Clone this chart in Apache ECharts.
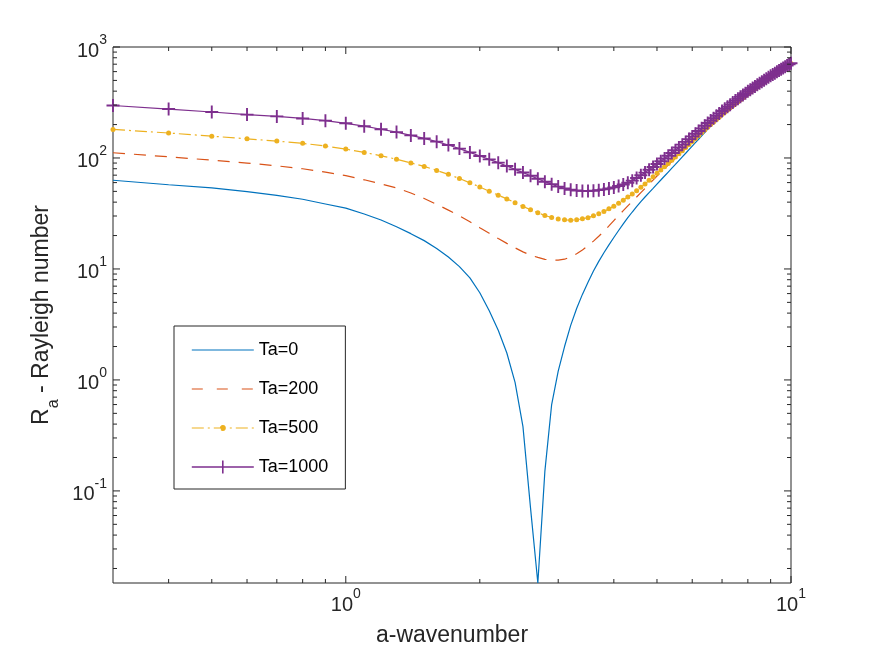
<!DOCTYPE html>
<html>
<head>
<meta charset="utf-8">
<script src="https://cdn.jsdelivr.net/npm/echarts@6/dist/echarts.min.js"></script>
<style>
html, body { margin: 0; padding: 0; background: #ffffff; }
#chart { width: 872px; height: 654px; }
</style>
</head>
<body>
<div id="chart"></div>
<script>
// ---- data ----
const aValues = [
  0.3, 0.4, 0.5, 0.6, 0.7, 0.8, 0.9, 1.0, 1.1, 1.2,
  1.3, 1.4, 1.5, 1.6, 1.7, 1.8, 1.9, 2.0, 2.1, 2.2,
  2.3, 2.4, 2.5, 2.6, 2.7, 2.8, 2.9, 3.0, 3.1, 3.2,
  3.3, 3.4, 3.5, 3.6, 3.7, 3.8, 3.9, 4.0, 4.1, 4.2,
  4.3, 4.4, 4.5, 4.6, 4.7, 4.8, 4.9, 5.0, 5.1, 5.2,
  5.3, 5.4, 5.5, 5.6, 5.7, 5.8, 5.9, 6.0, 6.1, 6.2,
  6.3, 6.4, 6.5, 6.6, 6.7, 6.8, 6.9, 7.0, 7.1, 7.2,
  7.3, 7.4, 7.5, 7.6, 7.7, 7.8, 7.9, 8.0, 8.1, 8.2,
  8.3, 8.4, 8.5, 8.6, 8.7, 8.8, 8.9, 9.0, 9.1, 9.2,
  9.3, 9.4, 9.5, 9.6, 9.7, 9.8, 9.9, 10.0
];

const raTa0 = [
  63, 57.4, 53.7, 49.7, 46.1, 42.5, 38.5, 35.3, 31.3, 27.6,
  24.0, 20.8, 18.0, 15.3, 12.8, 10.5, 8.3, 6.1, 4.2, 2.8,
  1.75, 0.95, 0.38, 0.07, 0.0148, 0.15, 0.6, 1.2, 2.0, 3.1,
  4.4, 5.9, 7.6, 9.6, 11.7, 14.0, 16.5, 19.2, 22.2, 25.5,
  29.0, 32.6, 36.5, 40.5, 44.5, 48.8, 53.3, 58.2, 63.3, 68.8,
  74.7, 81.0, 87.6, 94.7, 102.3, 110.3, 119.0, 128, 137.5, 147.5,
  158, 169.5, 182, 192.6, 203.6, 215, 226.9, 240, 251.9, 264.1,
  276.9, 290, 303, 316.1, 329.6, 343.5, 357.8, 373, 387.2, 401.7,
  416.5, 431.7, 447, 462.4, 478.2, 494.2, 510.8, 528, 544.6, 561.5,
  578.8, 596.3, 614, 631.6, 649.5, 667.8, 686.3, 705
];

const raTa200 = [
  111.5, 102.5, 95.6, 90.0, 85.0, 80.0, 74.6, 69.4, 63.6, 58.4,
  53.8, 48.4, 43.2, 38.2, 33.9, 30.1, 26.6, 23.5, 21.0, 18.8,
  17.0, 15.5, 14.25, 13.3, 12.7, 12.2, 12.05, 12.0, 12.24, 12.84,
  13.7, 14.82, 16.16, 17.82, 19.7, 21.8, 24.4, 27.3, 30.3, 33.5,
  37.0, 40.6, 44.5, 48.7, 53.1, 58.0, 63.2, 68.8, 74.2, 80.0,
  86.2, 92.8, 99.6, 106.6, 114.0, 121.8, 130.2, 138.5, 147, 155.5,
  165, 175, 186, 195.56, 206.48, 217.8, 229.64, 242.66, 254.5, 266.64,
  279.38, 292.42, 305.36, 318.42, 331.86, 345.72, 359.96, 375.12, 389.28, 403.74,
  418.5, 433.66, 448.92, 464.28, 480.04, 496, 512.58, 529.74, 546.3, 563.18,
  580.44, 597.92, 615.58, 633.16, 651.04, 669.3, 687.78, 706.46
];

const raTa500 = [
  181, 167.9, 157.2, 148.7, 142.1, 135.5, 128, 120.3, 112.3, 104.6,
  97.5, 90.3, 84, 77.3, 71.2, 65.3, 59.7, 54.8, 50.2, 46.2,
  42.8, 39.5, 36.6, 34.2, 32.1, 30.3, 29.1, 28.2, 27.7, 27.5,
  27.7, 28.3, 29.0, 30.1, 31.4, 33.0, 34.8, 36.75, 39.05, 41.6,
  44.4, 47.35, 50.65, 54.4, 58.4, 62.85, 67.6, 72.8, 77.8, 83.25,
  89.1, 95.4, 102.05, 108.95, 116.3, 124, 132.35, 140.65, 149.45, 158.7,
  168.4, 178.6, 189.6, 200, 210.8, 222, 233.75, 246.65, 258.4, 270.45,
  283.1, 296.05, 308.9, 321.9, 335.25, 349.05, 363.2, 378.3, 392.4, 406.8,
  421.5, 436.6, 451.8, 467.1, 482.8, 498.7, 515.25, 532.35, 548.85, 565.7,
  582.9, 600.35, 617.95, 635.5, 653.35, 671.55, 690, 708.65
];

const raTa1000 = [
  297, 276, 259.5, 246, 237, 227, 217, 205.3, 193.3, 181.6,
  171, 159.8, 150, 140.3, 130.8, 121.5, 112.3, 104.1, 97.2, 90.8,
  84.75, 78.95, 73.88, 69.07, 65.01, 61.15, 58.1, 55.2, 53.2, 51.8,
  50.9, 50.5, 50.4, 50.7, 51.3, 52.1, 53.1, 54.3, 55.9, 57.7,
  59.8, 62.5, 66.0, 69.8, 73.8, 78.3, 83.0, 88.2, 93.3, 98.8,
  104.6, 110.9, 117.5, 124.4, 131.8, 139.6, 148.0, 156.5, 165.5, 175.0,
  184.9, 195.4, 206.7, 217.4, 228.5, 240.0, 252.1, 265.2, 277.3, 289.6,
  302.5, 315.7, 328.8, 342.0, 355.5, 369.4, 383.6, 398.7, 412.7, 427.0,
  441.6, 456.5, 471.5, 486.5, 501.8, 517.3, 533.3, 549.6, 565.3, 581.2,
  597.4, 613.7, 630.2, 646.4, 663.1, 679.8, 697.2, 714
];

const seriesNames = ['Ta=0', 'Ta=200', 'Ta=500', 'Ta=1000'];

// axis ticks
const xTickValues = [1, 10];
const xTickExponents = ['0', '1'];
const yTickValues = [0.1, 1, 10, 100, 1000];
const yTickExponents = ['-1', '0', '1', '2', '3'];
const xMinorTicks = [0.4, 0.5, 0.6, 0.7, 0.8, 0.9, 2, 3, 4, 5, 6, 7, 8, 9];
const yMinorTicks = [
  0.02, 0.03, 0.04, 0.05, 0.06, 0.07, 0.08, 0.09,
  0.2, 0.3, 0.4, 0.5, 0.6, 0.7, 0.8, 0.9,
  2, 3, 4, 5, 6, 7, 8, 9,
  20, 30, 40, 50, 60, 70, 80, 90,
  200, 300, 400, 500, 600, 700, 800, 900
];
const xMin = 0.3, xMax = 10, yMin = 0.0148, yMax = 1000;

// ---- styling ----
const FONT = 'Liberation Sans, Arial, Helvetica, sans-serif';
const AXIS_COLOR = '#262626';
const colors = ['#0072BD', '#D95319', '#EDB120', '#7E2F8E'];

function pairs(ys) { return aValues.map((a, i) => [a, ys[i]]); }

function expLabel(value, ticks, exps) {
  const lv = Math.log10(value);
  for (let i = 0; i < ticks.length; i++) {
    if (Math.abs(lv - Math.log10(ticks[i])) < 1e-6) return '{b|10}{s|' + exps[i] + '}';
  }
  return '';
}

const tickRich = {
  b: { fontSize: 20, lineHeight: 20, padding: [8, 0, 0, 0], color: AXIS_COLOR, fontFamily: FONT },
  s: { fontSize: 14, lineHeight: 14, padding: [0, 0, 14, 0], color: AXIS_COLOR, fontFamily: FONT }
};

// tick marks (drawn inside the box on all four sides, MATLAB style)
const tickMarks = [];
xTickValues.forEach(v => { tickMarks.push([v, yMin, 0, 7], [v, yMax, 1, 7]); });
xMinorTicks.forEach(v => { tickMarks.push([v, yMin, 0, 4], [v, yMax, 1, 4]); });
yTickValues.forEach(v => { tickMarks.push([xMin, v, 2, 7], [xMax, v, 3, 7]); });
yMinorTicks.forEach(v => { tickMarks.push([xMin, v, 2, 4], [xMax, v, 3, 4]); });

const chart = echarts.init(document.getElementById('chart'), null, { renderer: 'canvas' });

const option = {
  backgroundColor: '#ffffff',
  animation: false,
  grid: {
    left: 113, right: 81, top: 47, bottom: 71,
    show: true, borderColor: AXIS_COLOR, borderWidth: 1, backgroundColor: '#ffffff'
  },
  xAxis: {
    type: 'log', logBase: 10, min: xMin, max: xMax,
    axisLine: { show: false },
    axisTick: { show: false },
    splitLine: { show: false },
    axisLabel: {
      customValues: xTickValues,
      margin: 8,
      formatter: v => expLabel(v, xTickValues, xTickExponents),
      rich: tickRich
    },
    name: 'a-wavenumber',
    nameLocation: 'middle',
    nameGap: 41,
    nameTextStyle: { fontSize: 23, fontFamily: FONT, color: AXIS_COLOR }
  },
  yAxis: {
    type: 'log', logBase: 10, min: yMin, max: yMax,
    axisLine: { show: false },
    axisTick: { show: false },
    splitLine: { show: false },
    axisLabel: {
      customValues: yTickValues,
      margin: 6,
      formatter: v => expLabel(v, yTickValues, yTickExponents),
      rich: tickRich
    },
    name: '{n|R}{sub|a}{n| - Rayleigh number}',
    nameLocation: 'middle',
    nameGap: 50,
    nameTextStyle: {
      fontSize: 23, fontFamily: FONT, color: AXIS_COLOR,
      rich: {
        n: { fontSize: 23, lineHeight: 23, padding: [0, 0, 8, 0], fontFamily: FONT, color: AXIS_COLOR },
        sub: { fontSize: 16, lineHeight: 16, padding: [15, 0, 0, 0], fontFamily: FONT, color: AXIS_COLOR }
      }
    }
  },
  legend: {
    orient: 'vertical',
    left: 174, top: 326,
    padding: [15, 17, 13, 17],
    itemGap: 21, itemWidth: 62, itemHeight: 14,
    backgroundColor: '#ffffff', borderColor: AXIS_COLOR, borderWidth: 1, borderRadius: 0,
    selectedMode: false,
    textStyle: { fontSize: 18, fontFamily: FONT, color: '#000000' },
    data: [
      { name: seriesNames[0], icon: 'path://M0,0M0,7L62,7M62,14',
        itemStyle: { color: colors[0], borderColor: colors[0], borderWidth: 1.2 } },
      { name: seriesNames[1], icon: 'path://M0,0M0,7L62,7M62,14',
        itemStyle: { color: colors[1], borderColor: colors[1], borderWidth: 1.2, borderType: [11, 14] } },
      { name: seriesNames[2], icon: 'path://M0,0M0,7L62,7M28.6,7A2.4,2.4 0 1 1 33.4,7A2.4,2.4 0 1 1 28.6,7ZM62,14',
        itemStyle: { color: colors[2], borderColor: colors[2], borderWidth: 1.2, borderType: [12, 4, 2, 4] } },
      { name: seriesNames[3], icon: 'path://M0,0M0,7L62,7M31,0.5L31,13.5M24.5,7L37.5,7M62,14',
        itemStyle: { color: colors[3], borderColor: colors[3], borderWidth: 1.6 } }
    ]
  },
  series: [
    {
      name: seriesNames[0], type: 'line', data: pairs(raTa0),
      symbol: 'none', showSymbol: false,
      lineStyle: { color: colors[0], width: 1.2 },
      itemStyle: { color: colors[0] },
      emphasis: { disabled: true }, silent: true
    },
    {
      name: seriesNames[1], type: 'line', data: pairs(raTa200),
      symbol: 'none', showSymbol: false,
      lineStyle: { color: colors[1], width: 1.2, type: [12, 9] },
      itemStyle: { color: colors[1] },
      emphasis: { disabled: true }, silent: true
    },
    {
      name: seriesNames[2], type: 'line', data: pairs(raTa500),
      symbol: 'circle', symbolSize: 5, showAllSymbol: true,
      lineStyle: { color: colors[2], width: 1.2, type: [12, 4, 2, 4] },
      itemStyle: { color: colors[2], borderWidth: 0 },
      emphasis: { disabled: true }, silent: true
    },
    {
      name: seriesNames[3], type: 'line', data: pairs(raTa1000),
      symbol: 'path://M6,0L6,12M0,6L12,6', symbolSize: 13, showAllSymbol: true,
      lineStyle: { color: colors[3], width: 1.2 },
      itemStyle: { color: colors[3], borderColor: colors[3], borderWidth: 1.9 },
      emphasis: { disabled: true }, silent: true
    },
    {
      name: 'ticks', type: 'custom', data: tickMarks,
      encode: { x: 0, y: 1 }, clip: false, silent: true, z: 10,
      renderItem: function (params, api) {
        const p = api.coord([api.value(0), api.value(1)]);
        const side = api.value(2), len = api.value(3);
        let x2 = p[0], y2 = p[1];
        if (side === 0) y2 -= len;
        else if (side === 1) y2 += len;
        else if (side === 2) x2 += len;
        else x2 -= len;
        return {
          type: 'line',
          shape: { x1: p[0], y1: p[1], x2: x2, y2: y2 },
          style: { stroke: AXIS_COLOR, lineWidth: 1 }
        };
      }
    }
  ]
};

chart.setOption(option);
</script>
</body>
</html>
